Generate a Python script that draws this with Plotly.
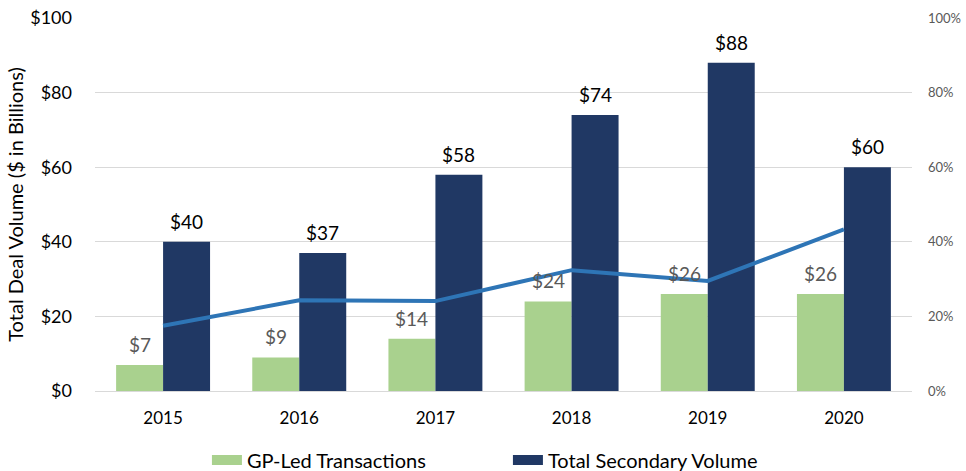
import plotly.graph_objects as go

years = ["2015", "2016", "2017", "2018", "2019", "2020"]
gp_led = [7, 9, 14, 24, 26, 26]
total_secondary = [40, 37, 58, 74, 88, 60]
gp_share_pct = [17.5, 24.3, 24.1, 32.4, 29.5, 43.3]
left_ticks = [0, 20, 40, 60, 80, 100]
right_ticks = [0, 20, 40, 60, 80, 100]

FONT = "Lato"
GREEN = "#A9D18E"
NAVY = "#203864"
BLUE = "#2E75B6"
BARGAP = 0.31
HALF = (1 - BARGAP) / 4  # centre offset of each bar within its category (category units)

fig = go.Figure()
fig.add_trace(go.Bar(
    x=years, y=gp_led, name="GP-Led Transactions",
    marker=dict(color=GREEN, line=dict(width=0)), showlegend=False,
))
fig.add_trace(go.Bar(
    x=years, y=total_secondary, name="Total Secondary Volume",
    marker=dict(color=NAVY, line=dict(width=0)), showlegend=False,
))
fig.add_trace(go.Scatter(
    x=years, y=gp_share_pct, yaxis="y2", mode="lines",
    line=dict(color=BLUE, width=4), showlegend=False, hoverinfo="skip",
))
# legend swatches (wide rectangles like the original)
fig.add_trace(go.Scatter(x=years[:1], y=[None], mode="lines", name="GP-Led Transactions",
                         line=dict(color=GREEN, width=11), hoverinfo="skip"))
fig.add_trace(go.Scatter(x=years[:1], y=[None], mode="lines", name="Total Secondary Volume",
                         line=dict(color=NAVY, width=11), hoverinfo="skip"))

annotations = []
for i, v in enumerate(gp_led):
    annotations.append(dict(x=i - HALF, y=v, xref="x", yref="y", text=f"${v}", showarrow=False,
                            yanchor="bottom", yshift=7,
                            font=dict(family=FONT, size=19, color="#595959")))
for i, v in enumerate(total_secondary):
    annotations.append(dict(x=i + HALF, y=v, xref="x", yref="y", text=f"${v}", showarrow=False,
                            yanchor="bottom", yshift=7,
                            font=dict(family=FONT, size=19, color="#000000")))

fig.update_layout(
    width=966, height=471,
    margin=dict(l=95, r=54, t=18, b=80, autoexpand=False),
    paper_bgcolor="white", plot_bgcolor="white",
    barmode="group", bargap=BARGAP, bargroupgap=0,
    font=dict(family=FONT, size=16, color="#000000"),
    annotations=annotations,
    xaxis=dict(
        type="category", categoryorder="array", categoryarray=years,
        range=[-0.5, len(years) - 0.5],
        showgrid=False, showline=True, automargin=False,
        linecolor="#D9D9D9", linewidth=1, ticks="",
        tickfont=dict(family=FONT, size=17, color="#000000"),
        ticklabelstandoff=12,
    ),
    yaxis=dict(
        range=[0, 100], tickvals=left_ticks, automargin=False,
        ticktext=[f"${v}" for v in left_ticks],
        showgrid=True, gridcolor="#D9D9D9", gridwidth=1,
        zeroline=False, showline=False, ticks="",
        tickfont=dict(family=FONT, size=18, color="#000000"),
        ticklabelstandoff=22,
        title=dict(text="Total Deal Volume ($ in Billions)",
                   font=dict(family=FONT, size=20, color="#000000"),
                   standoff=1),
    ),
    yaxis2=dict(
        range=[0, 100], overlaying="y", side="right", automargin=False,
        tickvals=right_ticks, ticktext=[f"{v}%" for v in right_ticks],
        showgrid=False, zeroline=False, showline=False, ticks="",
        tickfont=dict(family=FONT, size=13, color="#595959"),
        ticklabelstandoff=15,
    ),
    legend=dict(
        orientation="h", x=0.137, xanchor="left", y=-0.185, yanchor="middle",
        font=dict(family=FONT, size=20, color="#000000"),
        entrywidth=256, entrywidthmode="pixels",
    ),
)

fig.write_html("out.html", config={"displayModeBar": False},
               post_script="document.body.style.margin='0px';")
